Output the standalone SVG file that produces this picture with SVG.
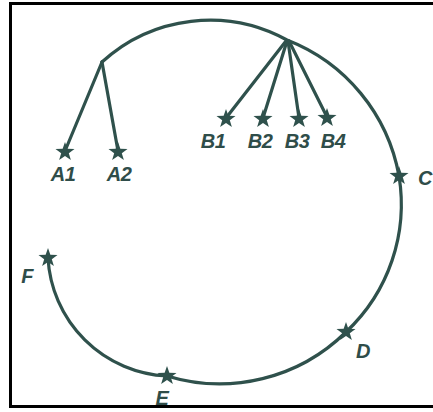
<svg xmlns="http://www.w3.org/2000/svg" width="433" height="412" viewBox="0 0 433 412">
<style>
.ln{fill:none;stroke:#2f514c;stroke-width:3.2;stroke-linecap:round;stroke-linejoin:round}
.st{fill:#2f514c}
.lb{font-family:"Liberation Sans",Arial,sans-serif;font-weight:bold;font-style:italic;font-size:20px;fill:#2f4d49;text-anchor:middle;letter-spacing:-0.5px}
</style>
<defs>
<polygon id="star" points="0,-10 2.35,-3.24 9.51,-3.09 3.8,1.24 5.88,8.09 0,4 -5.88,8.09 -3.8,1.24 -9.51,-3.09 -2.35,-3.24"/>
</defs>
<rect width="433" height="412" fill="#ffffff"/>
<rect x="10.5" y="3.5" width="430" height="403" fill="none" stroke="#000" stroke-width="3"/>
<g id="connectors">
<path class="ln" d="M102,62 A160,160 0 0 1 287,40 A180,180 0 0 1 399,176 A175,175 0 0 1 346,332 A180,180 0 0 1 167,376 A125,125 0 0 1 48,258"/>
<line class="ln" x1="102" y1="62" x2="65" y2="151"/>
<line class="ln" x1="102" y1="62" x2="118" y2="151"/>
<line class="ln" x1="286" y1="41" x2="226" y2="118"/>
<line class="ln" x1="287" y1="41" x2="263" y2="118"/>
<line class="ln" x1="288" y1="41" x2="299" y2="118"/>
<line class="ln" x1="289" y1="41" x2="327" y2="117"/>
</g>
<g id="A1"><use href="#star" class="st" x="65" y="152"/><text class="lb" x="63" y="181">A1</text></g>
<g id="A2"><use href="#star" class="st" x="118" y="152"/><text class="lb" x="119" y="181">A2</text></g>
<g id="B1"><use href="#star" class="st" x="226" y="119"/><text class="lb" x="213" y="148">B1</text></g>
<g id="B2"><use href="#star" class="st" x="263" y="119"/><text class="lb" x="260" y="148">B2</text></g>
<g id="B3"><use href="#star" class="st" x="299" y="119"/><text class="lb" x="297" y="148">B3</text></g>
<g id="B4"><use href="#star" class="st" x="327" y="118"/><text class="lb" x="333" y="148">B4</text></g>
<g id="C"><use href="#star" class="st" x="399" y="176"/><text class="lb" x="425" y="185">C</text></g>
<g id="D"><use href="#star" class="st" x="346" y="332"/><text class="lb" x="363" y="358">D</text></g>
<g id="E"><use href="#star" class="st" x="167" y="376"/><text class="lb" x="162" y="405">E</text></g>
<g id="F"><use href="#star" class="st" x="48" y="258"/><text class="lb" x="27" y="283">F</text></g>
</svg>
